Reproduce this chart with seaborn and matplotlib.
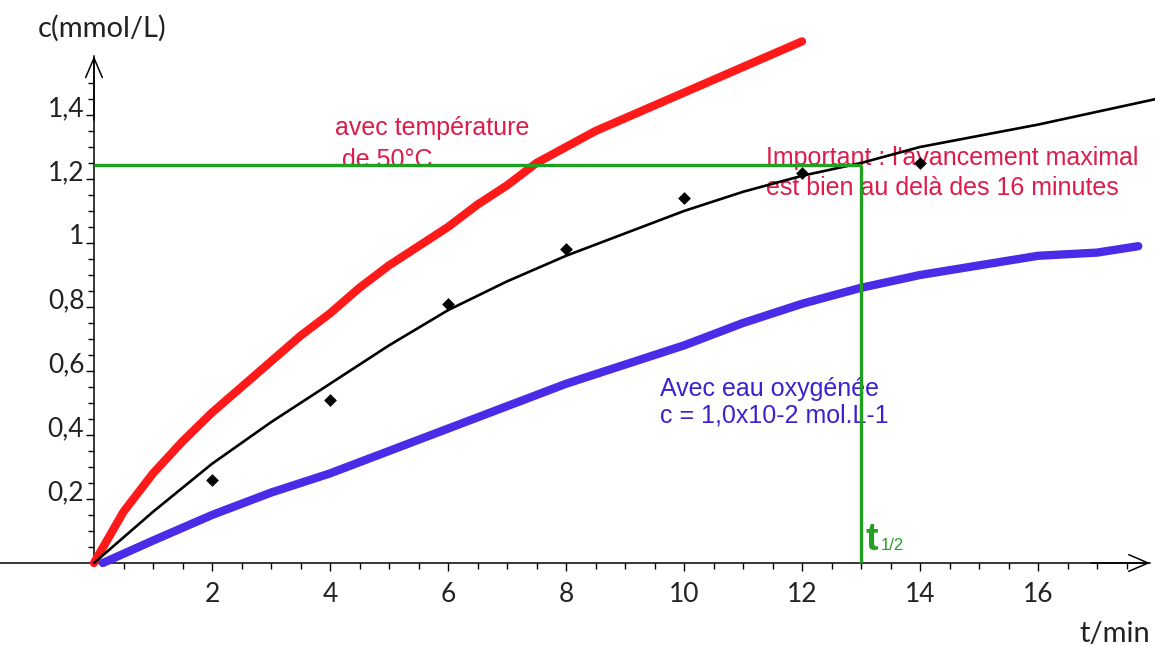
import matplotlib
matplotlib.use("Agg")
import matplotlib.pyplot as plt
import matplotlib.transforms as mtransforms
import seaborn as sns

# --- DATA ---
# red: experiment at 50 degC
t_hot = [0, 0.5, 1, 1.5, 2, 2.5, 3, 3.5, 4, 4.5, 5, 5.5, 6, 6.5, 7, 7.5, 8,
         8.5, 9, 9.5, 10, 10.5, 11, 11.5, 12]
c_hot = [0, 0.16, 0.28, 0.38, 0.47, 0.55, 0.63, 0.71, 0.78, 0.86, 0.93, 0.99,
         1.05, 1.12, 1.18, 1.25, 1.30, 1.35, 1.39, 1.43, 1.47, 1.51, 1.55,
         1.59, 1.63]

# black: model curve through the measurements
t_fit = [0, 1, 2, 3, 4, 5, 6, 7, 8, 9, 10, 11, 12, 13, 14, 15, 16, 17, 18]
c_fit = [0, 0.16, 0.31, 0.44, 0.56, 0.68, 0.79, 0.88, 0.96, 1.03, 1.10, 1.16,
         1.21, 1.25, 1.30, 1.335, 1.37, 1.41, 1.45]

# blue: hydrogen peroxide 1,0x10-2 mol/L
t_h2o2 = [0.15, 1, 2, 3, 4, 5, 6, 7, 8, 9, 10, 11, 12, 13, 14, 15, 16, 17,
          17.7]
c_h2o2 = [0, 0.07, 0.15, 0.22, 0.28, 0.35, 0.42, 0.49, 0.56, 0.62, 0.68, 0.75,
          0.81, 0.86, 0.90, 0.93, 0.96, 0.97, 0.99]

# black diamonds: measurements
t_meas = [2, 4, 6, 8, 10, 12, 14]
c_meas = [0.26, 0.51, 0.81, 0.98, 1.14, 1.22, 1.25]

# half-reaction time construction
T_HALF = 13
C_HALF = 1.245

x_ticks = [2, 4, 6, 8, 10, 12, 14, 16]
x_tick_labels = ["2", "4", "6", "8", "10", "12", "14", "16"]
y_ticks = [0.2, 0.4, 0.6, 0.8, 1.0, 1.2, 1.4]
y_tick_labels = ["0,2", "0,4", "0,6", "0,8", "1", "1,2", "1,4"]

# --- STYLE ---
RED = "#FF1A1A"
BLUE = "#4A2BE8"
GREEN = "#22A022"
TXT_RED = "#DC1C4A"
TXT_BLUE = "#3B22CF"
TICK_COL = "#222222"
ARIAL = ["Liberation Sans", "DejaVu Sans"]

# pixel frame of the original picture (origin at 94,563 ; 59 px/min ; 320 px per mmol/L)
W, H = 1155, 645
X0_PX, Y0_PX = 94, 563
PX_T, PX_C = 59.0, 320.0
X_END = 17.9      # tip of the time arrow
Y_END = 1.584     # tip of the concentration arrow


def make_plot():
    sns.set_style("white")
    plt.rcParams["font.family"] = ["Lato", "DejaVu Sans"]

    fig = plt.figure(figsize=(W / 100, H / 100), dpi=100)
    ax = fig.add_axes([0, 0, 1, 1])
    ax.set_xlim(-X0_PX / PX_T, (W - X0_PX) / PX_T)
    ax.set_ylim((Y0_PX - H) / PX_C, Y0_PX / PX_C)

    # 1. Axes through the origin
    ax.spines["top"].set_visible(False)
    ax.spines["right"].set_visible(False)
    ax.spines["left"].set_position(("data", 0))
    ax.spines["bottom"].set_position(("data", 0))
    ax.spines["left"].set_bounds(0, Y_END)
    ax.spines["bottom"].set_bounds(ax.get_xlim()[0], X_END)
    for s in ("left", "bottom"):
        ax.spines[s].set_color("black")
        ax.spines[s].set_linewidth(1.1)

    arrow = dict(arrowstyle="->,head_length=0.7,head_width=0.3", lw=1.1,
                 color="black", mutation_scale=20, shrinkA=0, shrinkB=0)
    ax.annotate("", xy=(X_END, 0), xytext=(X_END - 1, 0), arrowprops=arrow)
    ax.annotate("", xy=(0, Y_END), xytext=(0, Y_END - 0.2), arrowprops=arrow)

    # 2. Ticks
    ax.set_xticks(x_ticks, x_tick_labels)
    ax.set_yticks(y_ticks, y_tick_labels)
    ax.set_xticks([i * 0.5 for i in range(1, 36)], minor=True)
    ax.set_yticks([i * 0.05 for i in range(1, 31)], minor=True)
    ax.tick_params(which="both", bottom=True, left=True, top=False,
                   right=False, direction="out", color="black", width=1)
    ax.tick_params(which="major", length=6, labelcolor=TICK_COL, labelsize=19)
    ax.tick_params(which="minor", length=4)
    ax.tick_params(axis="x", which="major", pad=8)
    ax.tick_params(axis="y", which="major", pad=1)
    ax.grid(False)

    # 3. Curves and measurements
    sns.lineplot(x=t_hot, y=c_hot, color=RED, lw=6, sort=False,
                 estimator=None, ax=ax, zorder=3)
    sns.lineplot(x=t_h2o2, y=c_h2o2, color=BLUE, lw=6, sort=False,
                 estimator=None, ax=ax, zorder=3)
    sns.lineplot(x=t_fit, y=c_fit, color="black", lw=1.9, sort=False,
                 estimator=None, ax=ax, zorder=4)
    sns.scatterplot(x=t_meas, y=c_meas, marker="D", s=36, color="black",
                    edgecolor="black", ax=ax, zorder=5)

    # 4. t1/2 construction
    ax.hlines(C_HALF, 0, T_HALF, color=GREEN, lw=2.4, zorder=4)
    ax.vlines(T_HALF, 0, C_HALF, color=GREEN, lw=2.4, zorder=4)

    # 5. Annotations
    ax.text(4.08, 1.3375, "avec température", color=TXT_RED, fontsize=18,
            family=ARIAL, va="baseline", zorder=2)
    ax.text(4.20, 1.2375, "de 50°C", color=TXT_RED, fontsize=18,
            family=ARIAL, va="baseline", zorder=2)
    ax.text(11.39, 1.244, "Important : l'avancement maximal", color=TXT_RED,
            fontsize=18, family=ARIAL, va="baseline", zorder=2)
    ax.text(11.39, 1.15, "est bien au delà des 16 minutes", color=TXT_RED,
            fontsize=18, family=ARIAL, va="baseline", zorder=2)
    ax.text(9.59, 0.522, "Avec eau oxygénée", color=TXT_BLUE, fontsize=18,
            family=ARIAL, va="baseline", zorder=2)
    ax.text(9.59, 0.4375, "c = 1,0x10-2 mol.L-1", color=TXT_BLUE, fontsize=18,
            family=ARIAL, va="baseline", zorder=2)
    ax.text(13.07, 0.041, "t", color=GREEN, fontsize=27, fontweight="bold",
            family=ARIAL, va="baseline")
    ax.text(13.34, 0.041, "1/2", color=GREEN, fontsize=12, family=ARIAL,
            va="baseline")

    # axis titles
    ax.text(-0.95, 1.644, "c(mmol/L)", color=TICK_COL, fontsize=21,
            va="baseline")
    ax.text(X_END, -0.246, "t/min", color=TICK_COL, fontsize=21,
            ha="right", va="baseline")

    # y labels sit just above their tick in the original
    shift = mtransforms.ScaledTranslation(0, 0.09, fig.dpi_scale_trans)
    for lab in ax.get_yticklabels():
        lab.set_transform(lab.get_transform() + shift)

    fig.savefig("out.png", dpi=100)


if __name__ == "__main__":
    make_plot()
